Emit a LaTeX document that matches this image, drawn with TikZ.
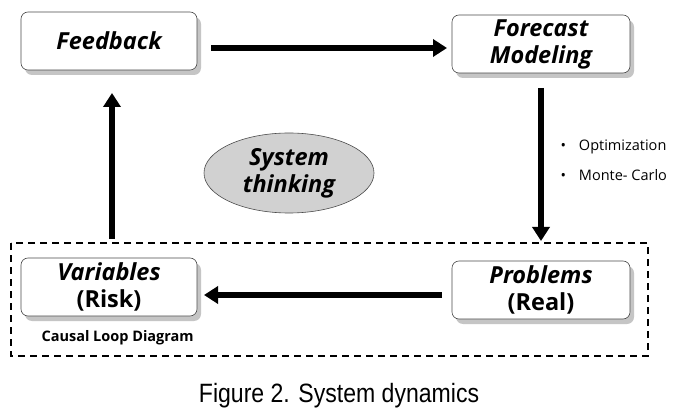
\documentclass[tikz,border=0pt]{standalone}
\usepackage{fontspec}
\setmainfont{Open Sans}
\newfontfamily\capfont[FakeStretch=0.87]{Liberation Sans}
\usetikzlibrary{arrows.meta,shadows,shapes.geometric}
\begin{document}
\begin{tikzpicture}[x=1pt,y=-1pt,
  box/.style={draw=black!70, line width=0.6pt, rounded corners=7pt, fill=white,
    minimum width=176pt, minimum height=58pt, align=center, inner sep=2pt,
    font=\fontsize{23.5}{27}\selectfont\bfseries\itshape,
    drop shadow={shadow xshift=4pt, shadow yshift=-5pt, fill=black!45, opacity=0.5}},
  bigarrow/.style={line width=6pt, -{Triangle[width=17pt,length=14pt]}},
  bullet/.style={anchor=west, font=\fontsize{14.5}{16}\selectfont}]
\useasboundingbox (0,0) rectangle (688,414);
\fill[white] (0,0) rectangle (688,414);
\draw[dashed, line width=1.2pt, dash pattern=on 7pt off 5pt] (11,243) rectangle (648,356);
\node[box] (fb) at (109,41) {Feedback};
\node[box, minimum width=178pt] (fm) at (541,44) {Forecast\\Modeling};
\node[box] (var) at (109,287) {Variables\\{\upshape (Risk)}};
\node[box, minimum width=178pt] (prob) at (541,290) {Problems\\{\upshape (Real)}};
\node[ellipse, draw=black!70, line width=0.6pt, fill=black!18, minimum width=170pt, minimum height=80pt,
  align=center, font=\fontsize{23.5}{27}\selectfont\bfseries\itshape] (st) at (289,173) {System\\thinking};
\coordinate (a1s) at (211,48); \coordinate (a1e) at (447,48);
\draw[bigarrow] (a1s) -- (a1e);
\coordinate (a2s) at (541,88); \coordinate (a2e) at (541,241);
\draw[bigarrow] (a2s) -- (a2e);
\coordinate (a3s) at (442,295); \coordinate (a3e) at (204,295);
\draw[bigarrow] (a3s) -- (a3e);
\coordinate (a4s) at (112,239); \coordinate (a4e) at (112,93);
\draw[bigarrow] (a4s) -- (a4e);
\node[bullet] (b1) at (557,147) {•\hspace{13pt}Optimization};
\node[bullet] (b2) at (557,175) {•\hspace{13pt}Monte- Carlo};
\node[anchor=west, font=\fontsize{14.5}{16}\selectfont\bfseries] (cld) at (38,338) {Causal Loop Diagram};
\node[font=\capfont\fontsize{26.5}{28}\selectfont] (cap) at (339,396) {Figure 2. System dynamics};
\end{tikzpicture}
\end{document}
